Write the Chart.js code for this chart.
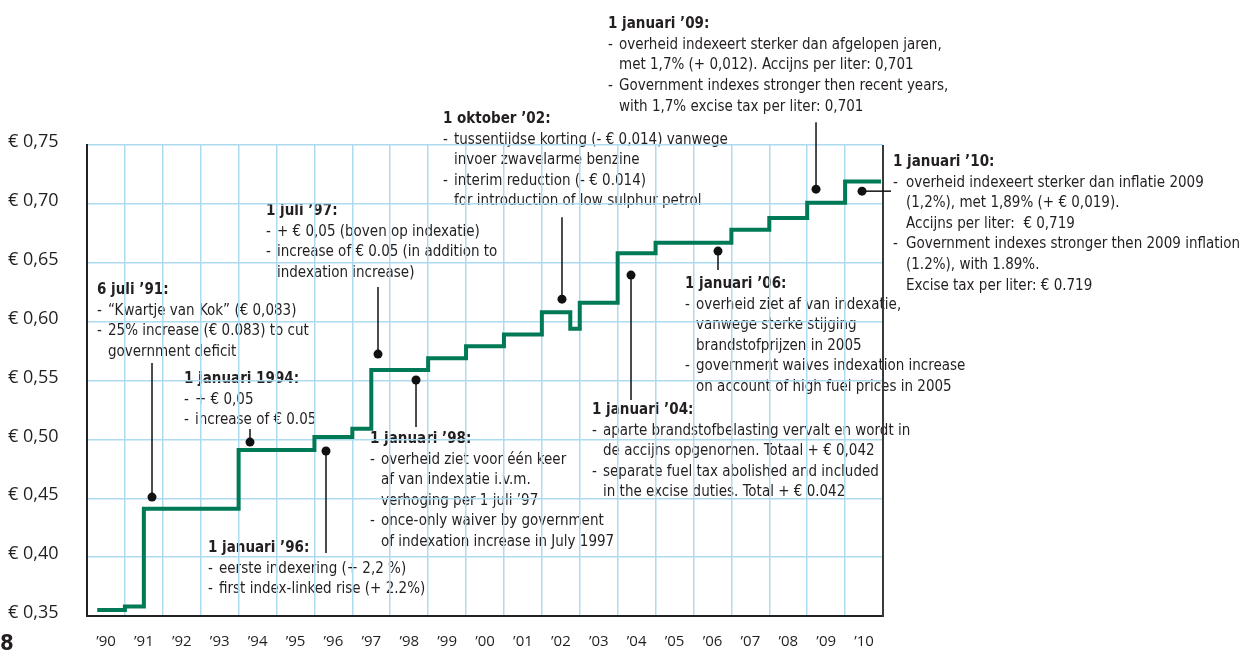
<!DOCTYPE html>
<html>
<head>
<meta charset="utf-8">
<script src="https://cdn.jsdelivr.net/npm/chart.js@4.4.1/dist/chart.umd.min.js"></script>
<style>
  body { margin: 0; background: #fff; }
  canvas { display: block; }
</style>
</head>
<body>
<canvas id="accijns" width="1240" height="656"></canvas>
<script>
// accijns benzine per liter, stappen op de wijzigingsdata
let changeYears = [1990.27, 1991.0, 1991.5, 1994.0, 1996.0, 1997.0, 1997.5, 1999.0, 2000.0, 2001.0,
                   2002.0, 2002.75, 2003.0, 2004.0, 2005.0, 2007.0, 2008.0, 2009.0, 2010.0];
let exciseValues = [0.355, 0.358, 0.441, 0.491, 0.502, 0.509, 0.559, 0.569, 0.579, 0.589,
                    0.608, 0.594, 0.616, 0.658, 0.667, 0.678, 0.688, 0.701, 0.719];
let lastYear = 2010.95;

let yearLabels = ['’90', '’91', '’92', '’93', '’94', '’95', '’96', '’97', '’98', '’99', '’00',
                  '’01', '’02', '’03', '’04', '’05', '’06', '’07', '’08', '’09', '’10'];
let yTicks = [0.35, 0.40, 0.45, 0.50, 0.55, 0.60, 0.65, 0.70, 0.75];

let green = '#007a56'
let gridBlue = '#addcf1'
let ink = '#231f20'
let narrow = '"DejaVu Sans Condensed", "Liberation Sans Narrow", sans-serif'

let points = changeYears.map((yr, i) => ({ x: yr, y: exciseValues[i] }));
points.push({ x: lastYear, y: exciseValues[exciseValues.length - 1] });

// toelichtingen: dot = punt op de lijn, end = einde van het lijntje, at = begin van de tekst
let notes = [
  { dot: [1991.715, 0.451], end: [1991.715, 0.5648], at: [1990.264, 0.6234],
    lines: ['6 juli ’91:', '- “Kwartje van Kok” (€ 0,083)', '- 25% increase (€ 0.083) to cut', '~government deficit'] },
  { dot: [1994.30, 0.4977], end: [1994.30, 0.5088], at: [1992.559, 0.5478],
    lines: ['1 januari 1994:', '- + € 0,05', '- increase of € 0.05'] },
  { dot: [1996.305, 0.4901], end: [1996.305, 0.4035], at: [1993.192, 0.4043],
    lines: ['1 januari ’96:', '- eerste indexering (+ 2,2 %)', '- first index-linked rise (+ 2.2%)'] },
  { dot: [1997.677, 0.5724], end: [1997.677, 0.6293], at: [1994.722, 0.6905],
    lines: ['1 juli ’97:', '- + € 0,05 (boven op indexatie)', '- increase of € 0.05 (in addition to', '~indexation increase)'] },
  { dot: [1998.680, 0.5504], end: [1998.680, 0.5105], at: [1997.466, 0.4969],
    lines: ['1 januari ’98:', '- overheid ziet voor één keer', '~af van indexatie i.v.m.', '~verhoging per 1 juli ’97',
            '- once-only waiver by government', '~of indexation increase in July 1997'] },
  { dot: [2002.531, 0.6191], end: [2002.531, 0.6887], at: [1999.392, 0.7686],
    lines: ['1 oktober ’02:', '- tussentijdse korting (- € 0,014) vanwege', '~invoer zwavelarme benzine',
            '- interim reduction (- € 0.014)', '~for introduction of low sulphur petrol'] },
  { dot: [2004.352, 0.6395], end: [2004.352, 0.5334], at: [2003.323, 0.5215],
    lines: ['1 januari ’04:', '- aparte brandstofbelasting vervalt en wordt in', '~de accijns opgenomen. Totaal + € 0,042',
            '- separate fuel tax abolished and included', '~in the excise duties. Total + € 0.042'] },
  { dot: [2006.647, 0.6599], end: [2006.647, 0.6438], at: [2005.777, 0.6285],
    lines: ['1 januari ’06:', '- overheid ziet af van indexatie,', '~vanwege sterke stijging', '~brandstofprijzen in 2005',
            '- government waives indexation increase', '~on account of high fuel prices in 2005'] },
  { dot: [2009.233, 0.7125], end: [2009.233, 0.7694], at: [2003.745, 0.8492],
    lines: ['1 januari ’09:', '- overheid indexeert sterker dan afgelopen jaren,', '~met 1,7% (+ 0,012). Accijns per liter: 0,701',
            '- Government indexes stronger then recent years,', '~with 1,7% excise tax per liter: 0,701'] },
  { dot: [2010.447, 0.7108], end: [2011.212, 0.7108], at: [2011.264, 0.7321], indent: 13,
    lines: ['1 januari ’10:', '- overheid indexeert sterker dan inflatie 2009', '~(1,2%), met 1,89% (+ € 0,019).',
            '~Accijns per liter:  € 0,719', '- Government indexes stronger then 2009 inflation', '~(1.2%), with 1.89%.',
            '~Excise tax per liter: € 0.719'] }
];

let notesPlugin = {
  id: 'notes',
  beforeDraw(chart) {
    let ctx = chart.ctx, xs = chart.scales.x, ys = chart.scales.y;
    ctx.save();
    ctx.fillStyle = ink;
    ctx.textBaseline = 'alphabetic';
    ctx.textAlign = 'left';
    notes.forEach(n => {
      let px = xs.getPixelForValue(n.at[0]), py = ys.getPixelForValue(n.at[1]);
      let ind = n.indent || 11;
      n.lines.forEach((t, i) => {
        let by = py + i * 20.6;
        if (i == 0) {
          ctx.font = 'bold 15px ' + narrow;
          ctx.fillText(t, px, by);
          return;
        }
        ctx.font = '15px ' + narrow;
        if (t.startsWith('- ')) {
          ctx.fillText('-', px, by);
          ctx.fillText(t.slice(2), px + ind, by);
        } else if (t.startsWith('~')) {
          ctx.fillText(t.slice(1), px + ind, by);
        } else {
          ctx.fillText(t, px, by);
        }
      });
    });
    // paginanummer links onder
    ctx.font = 'bold 22px ' + narrow;
    ctx.fillText('8', 0, 650);
    ctx.restore();
  },
  afterDraw(chart) {
    let ctx = chart.ctx, xs = chart.scales.x, ys = chart.scales.y, a = chart.chartArea;
    ctx.save();
    ctx.strokeStyle = '#3a3a3a';
    ctx.lineWidth = 2;
    ctx.beginPath();
    ctx.moveTo(a.right, a.top);
    ctx.lineTo(a.right, a.bottom + 1);
    ctx.stroke();
    ctx.strokeStyle = '#111';
    ctx.fillStyle = '#111';
    ctx.lineWidth = 1.5;
    notes.forEach(n => {
      let dx = xs.getPixelForValue(n.dot[0]), dy = ys.getPixelForValue(n.dot[1]);
      let ex = xs.getPixelForValue(n.end[0]), ey = ys.getPixelForValue(n.end[1]);
      ctx.beginPath();
      ctx.moveTo(dx, dy);
      ctx.lineTo(ex, ey);
      ctx.stroke();
      ctx.beginPath();
      ctx.arc(dx, dy, 4.5, 0, Math.PI * 2);
      ctx.fill();
    });
    ctx.restore();
  }
};

var ctx = document.getElementById('accijns').getContext('2d');

var chart = new Chart(ctx, {
  type: 'line',
  data: {
    datasets: [{
      data: points,
      borderColor: green,
      borderWidth: 4,
      stepped: 'before',
      pointRadius: 0,
      fill: false,
      borderJoinStyle: 'miter',
      borderCapStyle: 'butt'
    }]
  },
  options: {
    responsive: false,
    animation: false,
    devicePixelRatio: 1,
    layout: { padding: { left: 8, right: 357, top: 145, bottom: 0 } },
    plugins: { legend: { display: false }, tooltip: { enabled: false } },
    scales: {
      x: {
        type: 'linear',
        min: 1990,
        max: 2011,
        afterFit(s) { s.height = 40; },
        grid: { color: gridBlue, lineWidth: 1.5, drawTicks: false },
        border: { color: '#222', width: 2 },
        ticks: {
          stepSize: 1,
          autoSkip: false,
          maxRotation: 0,
          padding: 17,
          labelOffset: 19,
          color: ink,
          font: { family: '"Open Sans", sans-serif', size: 15 },
          callback: v => yearLabels[Math.round(v) - 1990] || ''
        }
      },
      y: {
        min: 0.35,
        max: 0.75,
        afterFit(s) { s.width = 79; },
        afterBuildTicks(s) { s.ticks = yTicks.map(v => ({ value: v })); },
        grid: { color: gridBlue, lineWidth: 1.5, drawTicks: false },
        border: { color: '#222', width: 2 },
        ticks: {
          crossAlign: 'far',
          padding: 0,
          labelOffset: -3,
          color: ink,
          font: { family: '"Open Sans", sans-serif', size: 18 },
          callback: v => '€ ' + v.toFixed(2).replace('.', ',')
        }
      }
    }
  },
  plugins: [notesPlugin]
});
</script>
</body>
</html>
